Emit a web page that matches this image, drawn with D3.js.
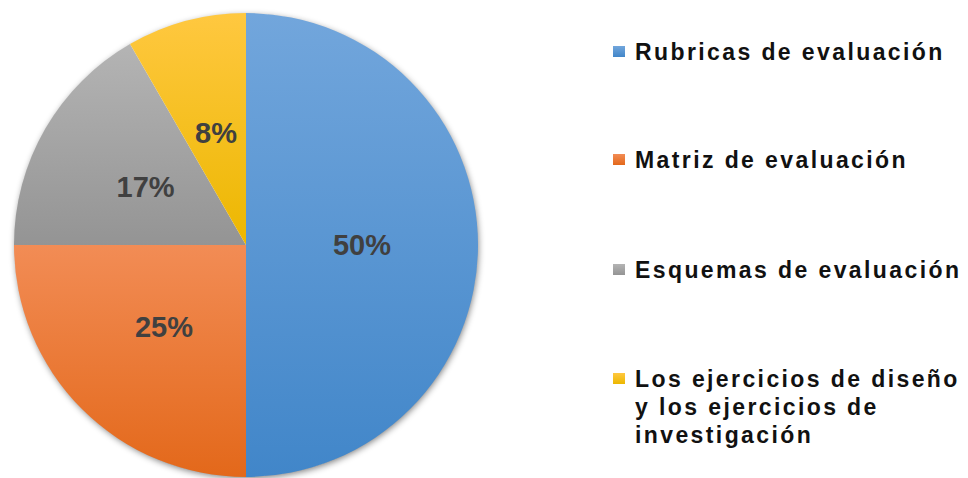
<!DOCTYPE html>
<html>
<head>
<meta charset="utf-8">
<script src="https://cdn.jsdelivr.net/npm/d3@7"></script>
<style>
  body { margin: 0; background: #fff; }
  svg { display: block; font-family: "Liberation Sans", Arial, sans-serif; }
</style>
</head>
<body>
<div id="chart"></div>
<script>
  // data
  var categories = ["Rubricas de evaluación", "Matriz de evaluación", "Esquemas de evaluación",
                    "Los ejercicios de diseño y los ejercicios de investigación"];
  var legendLines = [["Rubricas de evaluación"], ["Matriz de evaluación"], ["Esquemas de evaluación"],
                     ["Los ejercicios de diseño", "y los ejercicios de", "investigación"]];
  var values = [50, 25, 16.67, 8.33];
  var topColors = ["#72a6dc", "#f28c55", "#b4b4b4", "#ffc840"];
  var bottomColors = ["#4186c9", "#e3681a", "#949494", "#ecb700"];

  var width = 968, height = 478;
  var cx = 246, cy = 245, radius = 232;

  var svg = d3.select("#chart").append("svg")
      .attr("width", width).attr("height", height);

  var defs = svg.append("defs");
  // soft shadow round the pie
  var shadow = defs.append("filter").attr("id", "shadow")
      .attr("x", "-10%").attr("y", "-10%").attr("width", "120%").attr("height", "120%");
  shadow.append("feGaussianBlur").attr("in", "SourceAlpha").attr("stdDeviation", 3.5);
  shadow.append("feOffset").attr("dx", 1).attr("dy", 2).attr("result", "blur");
  shadow.append("feComponentTransfer").append("feFuncA").attr("type", "linear").attr("slope", 0.55);
  var merge = shadow.append("feMerge");
  merge.append("feMergeNode");
  merge.append("feMergeNode").attr("in", "SourceGraphic");

  categories.forEach(function (c, i) {
    var g = defs.append("linearGradient").attr("id", "grad" + i)
        .attr("x1", 0).attr("y1", 0).attr("x2", 0).attr("y2", 1);
    g.append("stop").attr("offset", "0%").attr("stop-color", topColors[i]);
    g.append("stop").attr("offset", "100%").attr("stop-color", bottomColors[i]);
  });

  var pie = d3.pie().sort(null).value(function (d) { return d; });
  var arcs = pie(values);
  var arc = d3.arc().innerRadius(0).outerRadius(radius);
  var labelArc = d3.arc().innerRadius(radius * 0.5).outerRadius(radius * 0.5);

  var g = svg.append("g").attr("transform", "translate(" + cx + "," + cy + ")");

  // shadow under the whole disc
  g.append("circle").attr("r", radius - 1).attr("fill", "#fff").attr("filter", "url(#shadow)");

  g.selectAll("path.slice").data(arcs).enter().append("path")
      .attr("class", "slice")
      .attr("d", arc)
      .attr("fill", function (d, i) { return "url(#grad" + i + ")"; })
      .attr("stroke", "none");

  g.selectAll("text.pct").data(arcs).enter().append("text")
      .attr("class", "pct")
      .attr("transform", function (d) { return "translate(" + labelArc.centroid(d) + ")"; })
      .attr("text-anchor", "middle")
      .attr("dy", "0.36em")
      .style("font-size", "29px")
      .style("font-weight", "bold")
      .style("fill", "#404040")
      .text(function (d) { return Math.round(d.value) + "%"; });

  // legend
  var legendX = 613, rowY = [60, 168, 278, 387], lineH = 28;
  var legend = svg.append("g");
  categories.forEach(function (c, i) {
    legend.append("rect")
        .attr("x", legendX).attr("y", rowY[i] - 14)
        .attr("width", 12).attr("height", 11)
        .attr("fill", "url(#grad" + i + ")");
    var t = legend.append("text")
        .attr("x", legendX + 22).attr("y", rowY[i])
        .style("font-size", "23px")
        .style("font-weight", "bold")
        .style("letter-spacing", "2.4px")
        .style("fill", "#111");
    legendLines[i].forEach(function (line, j) {
      t.append("tspan").attr("x", legendX + 22).attr("y", rowY[i] + j * lineH).text(line);
    });
  });
</script>
</body>
</html>
